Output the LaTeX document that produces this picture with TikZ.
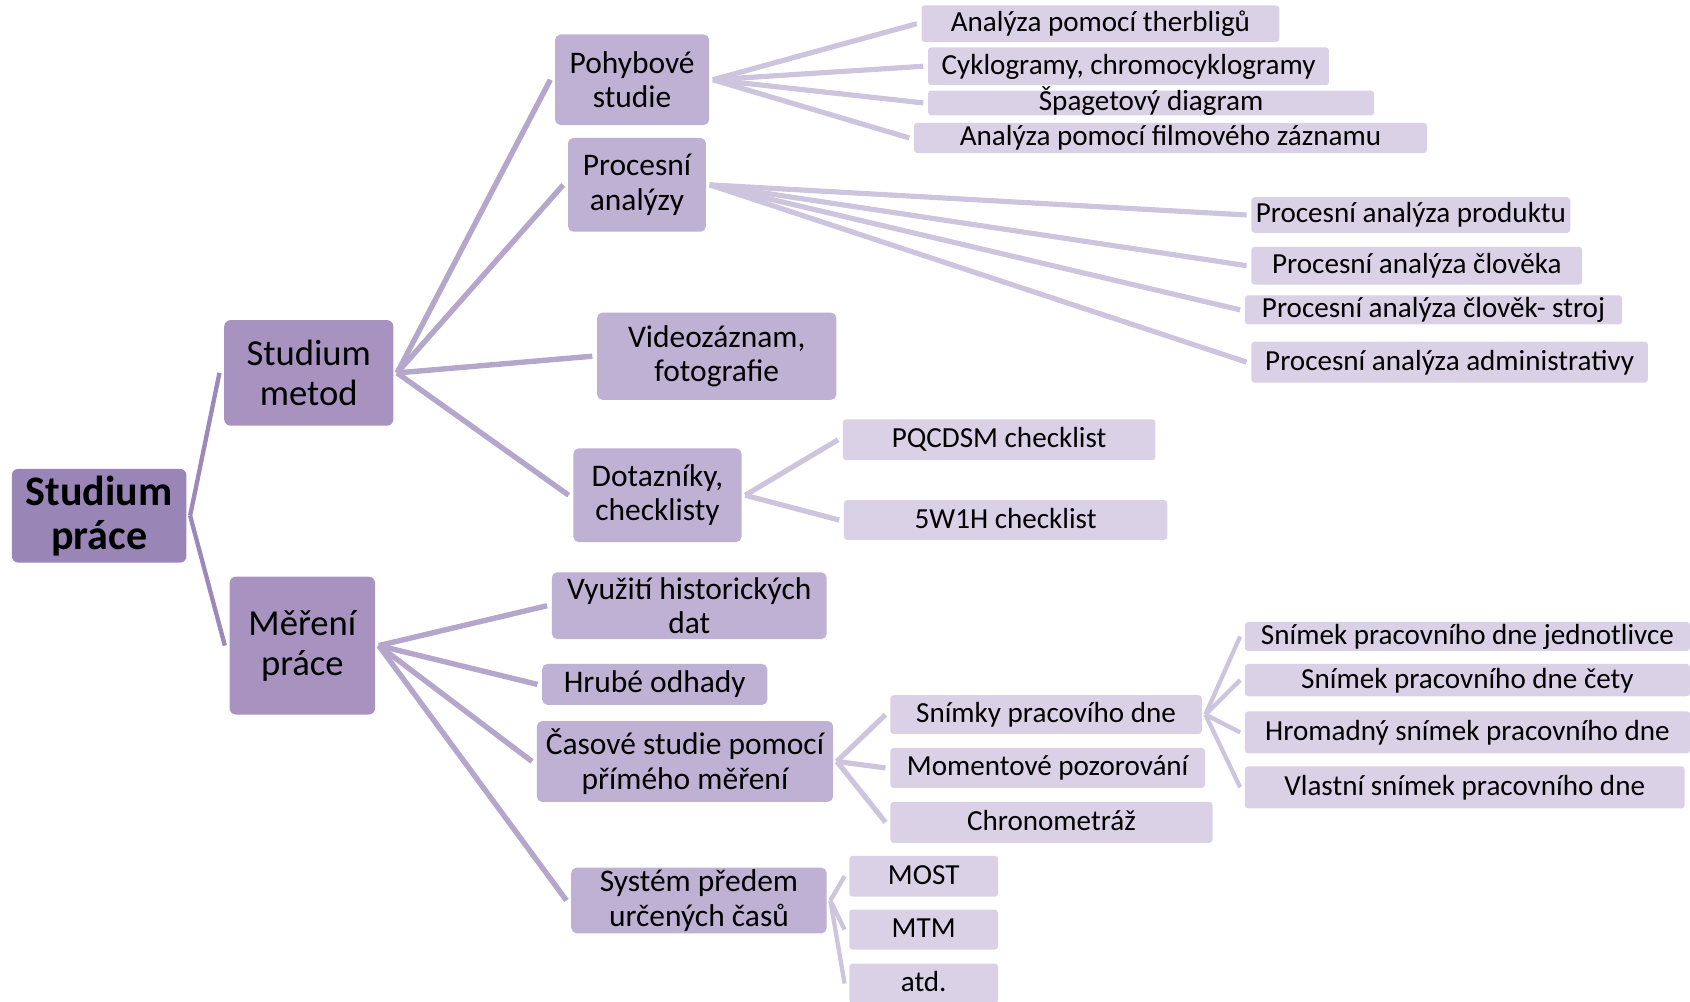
\documentclass[tikz,border=0pt]{standalone}
\usepackage{fontspec}
\setmainfont{Carlito}
\usetikzlibrary{calc}

\definecolor{rootfill}{RGB}{154,133,183}
\definecolor{onefill}{RGB}{167,146,192}
\definecolor{twofill}{RGB}{191,177,212}
\definecolor{threefill}{RGB}{218,209,230}
\definecolor{rootlink}{RGB}{157,136,185}
\definecolor{onelink}{RGB}{180,167,203}
\definecolor{twolink}{RGB}{205,197,221}

\tikzset{
  box/.style={inner sep=0pt, align=center, text=black},
  oneline/.style={text height=0.92em, text depth=0.18em},
  rootbox/.style={box, fill=rootfill, rounded corners=3pt,
    font=\fontsize{19.5}{20.5}\selectfont\bfseries},
  onebox/.style={box, fill=onefill, rounded corners=3pt,
    font=\fontsize{17}{18.5}\selectfont},
  twobox/.style={box, fill=twofill, rounded corners=2.5pt,
    font=\fontsize{14.6}{16}\selectfont},
  threebox/.style={box, oneline, fill=threefill, rounded corners=1.5pt,
    font=\fontsize{13.5}{15}\selectfont},
  rootedge/.style={draw=rootlink, line width=2pt},
  oneedge/.style={draw=onelink, line width=2.5pt},
  twoedge/.style={draw=twolink, line width=2.4pt},
  thinedge/.style={draw=twolink, line width=2pt},
}

% \bx{name}{style}{x1}{y1}{x2}{y2}{text}: box given by its corners
\newcommand\bx[7]{%
  \node[#2, minimum width={(#5-#3)*0.5pt}, minimum height={(#6-#4)*0.5pt}]
    (#1) at ({(#3+#5)/2},{(#4+#6)/2}) {#7};}

% \fan{style}{parent}{list of children}
\newcommand\fan[3]{%
  \foreach \c in {#3}
    \draw[#1] ([xshift=1.5pt]#2.east) -- ([xshift=-2pt]\c.west);}

\begin{document}
\begin{tikzpicture}[x=0.5pt, y=-0.5pt]
\useasboundingbox (0,0) rectangle (1568,929);

% root and first level
\bx{root}{rootbox}{11}{435}{173}{522}{Studium\\práce}
\bx{metod}{onebox}{208}{297}{365}{395}{Studium\\metod}
\bx{mereni}{onebox}{213}{535}{348}{663}{Měření\\práce}

% second level
\bx{pohyb}{twobox}{515}{32}{658}{116}{Pohybové\\studie}
\bx{proc}{twobox}{527}{128}{655}{215}{Procesní\\analýzy}
\bx{video}{twobox}{554}{290}{776}{371}{Videozáznam,\\fotografie}
\bx{dotaz}{twobox}{532}{416}{688}{503}{Dotazníky,\\checklisty}
\bx{vyuz}{twobox}{512}{531}{767}{593}{Využití historických\\dat}
\bx{hrube}{twobox,oneline}{503}{616}{712}{654}{Hrubé odhady}
\bx{casove}{twobox}{498}{669}{773}{744}{Časové studie pomocí\\přímého měření}
\bx{system}{twobox}{530}{805}{767}{866}{Systém předem\\určených časů}

% third level
\bx{therb}{threebox}{855}{5}{1187}{39}{Analýza pomocí therbligů}
\bx{cyklo}{threebox}{861}{44}{1233}{79}{Cyklogramy, chromocyklogramy}
\bx{spag}{threebox}{861}{84}{1275}{107}{Špagetový diagram}
\bx{film}{threebox}{848}{114}{1324}{142}{Analýza pomocí filmového záznamu}
\bx{prod}{threebox}{1161}{183}{1457}{216}{Procesní analýza produktu}
\bx{clov}{threebox}{1161}{229}{1468}{264}{Procesní analýza člověka}
\bx{stroj}{threebox}{1155}{274}{1505}{301}{Procesní analýza člověk- stroj}
\bx{admin}{threebox}{1161}{317}{1529}{355}{Procesní analýza administrativy}
\bx{pq}{threebox}{782}{389}{1072}{427}{PQCDSM checklist}
\bx{wh}{threebox}{783}{464}{1083}{501}{5W1H checklist}
\bx{snimky}{threebox}{826}{645}{1115}{681}{Snímky pracovího dne}
\bx{moment}{threebox}{826}{694}{1118}{731}{Momentové pozorování}
\bx{chrono}{threebox}{826}{744}{1125}{782}{Chronometráž}
\bx{most}{threebox}{788}{794}{926}{832}{MOST}
\bx{mtm}{threebox}{788}{844}{926}{881}{MTM}
\bx{atd}{threebox}{788}{894}{926}{931}{atd.}

% fourth level
\bx{jedn}{threebox}{1155}{577}{1568}{604}{Snímek pracovního dne jednotlivce}
\bx{ceta}{threebox}{1155}{616}{1568}{646}{Snímek pracovního dne čety}
\bx{hrom}{threebox}{1155}{660}{1568}{699}{Hromadný snímek pracovního dne}
\bx{vlast}{threebox}{1155}{711}{1563}{750}{Vlastní snímek pracovního dne}

% connectors
\fan{rootedge}{root}{metod,mereni}
\fan{oneedge}{metod}{pohyb,proc,video,dotaz}
\fan{oneedge}{mereni}{vyuz,hrube,casove,system}
\fan{twoedge}{pohyb}{therb,cyklo,spag,film}
\fan{twoedge}{proc}{prod,clov,stroj,admin}
\fan{twoedge}{dotaz}{pq,wh}
\fan{twoedge}{casove}{snimky,moment,chrono}
\fan{thinedge}{snimky}{jedn,ceta,hrom,vlast}
\fan{thinedge}{system}{most,mtm,atd}
\end{tikzpicture}
\end{document}
